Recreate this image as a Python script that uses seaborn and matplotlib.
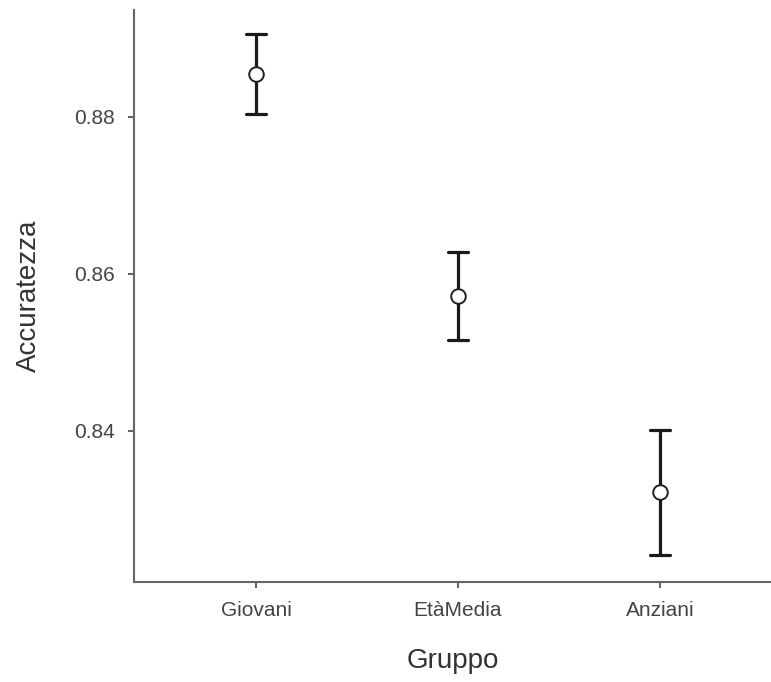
import numpy as np
import pandas as pd
import matplotlib
matplotlib.use("Agg")
import matplotlib.pyplot as plt
import seaborn as sns

# Data
gruppi = ["Giovani", "EtàMedia", "Anziani"]
medie = [0.8854, 0.8571, 0.8322]
limite_inf = [0.8803, 0.8515, 0.8241]
limite_sup = [0.8905, 0.8627, 0.8401]
y_ticks = [0.84, 0.86, 0.88]

df = pd.DataFrame({
    "Gruppo": np.repeat(gruppi, 3),
    "Accuratezza": np.ravel(np.column_stack([limite_inf, medie, limite_sup])),
})

sns.set_theme(style="ticks")
plt.rcParams["font.family"] = ["Liberation Sans", "DejaVu Sans"]

W, H = 771, 682
fig = plt.figure(figsize=(W / 100, H / 100), dpi=100)
ax = fig.add_axes([134 / W, 1 - 582 / H, (W - 134) / W, (582 - 10) / H])

sns.pointplot(
    data=df, x="Gruppo", y="Accuratezza", order=gruppi,
    estimator="median", errorbar=lambda v: (v.min(), v.max()),
    linestyle="none", markers="o", color="#1a1a1a", capsize=0.1,
    err_kws={"linewidth": 2.3, "color": "#1a1a1a", "zorder": 2},
    markerfacecolor="white", markeredgecolor="#222222",
    markersize=10.5, markeredgewidth=1.4, zorder=3, ax=ax,
)

ax.set_xlim(-0.604, 2.55)
ax.set_ylim(0.8207, 0.8936)
ax.set_yticks(y_ticks)
ax.set_yticklabels([f"{t:.2f}" for t in y_ticks])

for side in ["top", "right"]:
    ax.spines[side].set_visible(False)
for side in ["left", "bottom"]:
    ax.spines[side].set_color("#666666")
    ax.spines[side].set_linewidth(1.5)

ax.tick_params(axis="both", colors="#666666", labelcolor="#444444",
               length=4, width=1.5, labelsize=15)
ax.tick_params(axis="y", pad=10)
ax.tick_params(axis="x", pad=10)
ax.set_xlabel("Gruppo", fontsize=20, color="#333333", labelpad=20)
ax.set_ylabel("Accuratezza", fontsize=20, color="#333333", labelpad=23)

fig.savefig("out.png", dpi=100)
